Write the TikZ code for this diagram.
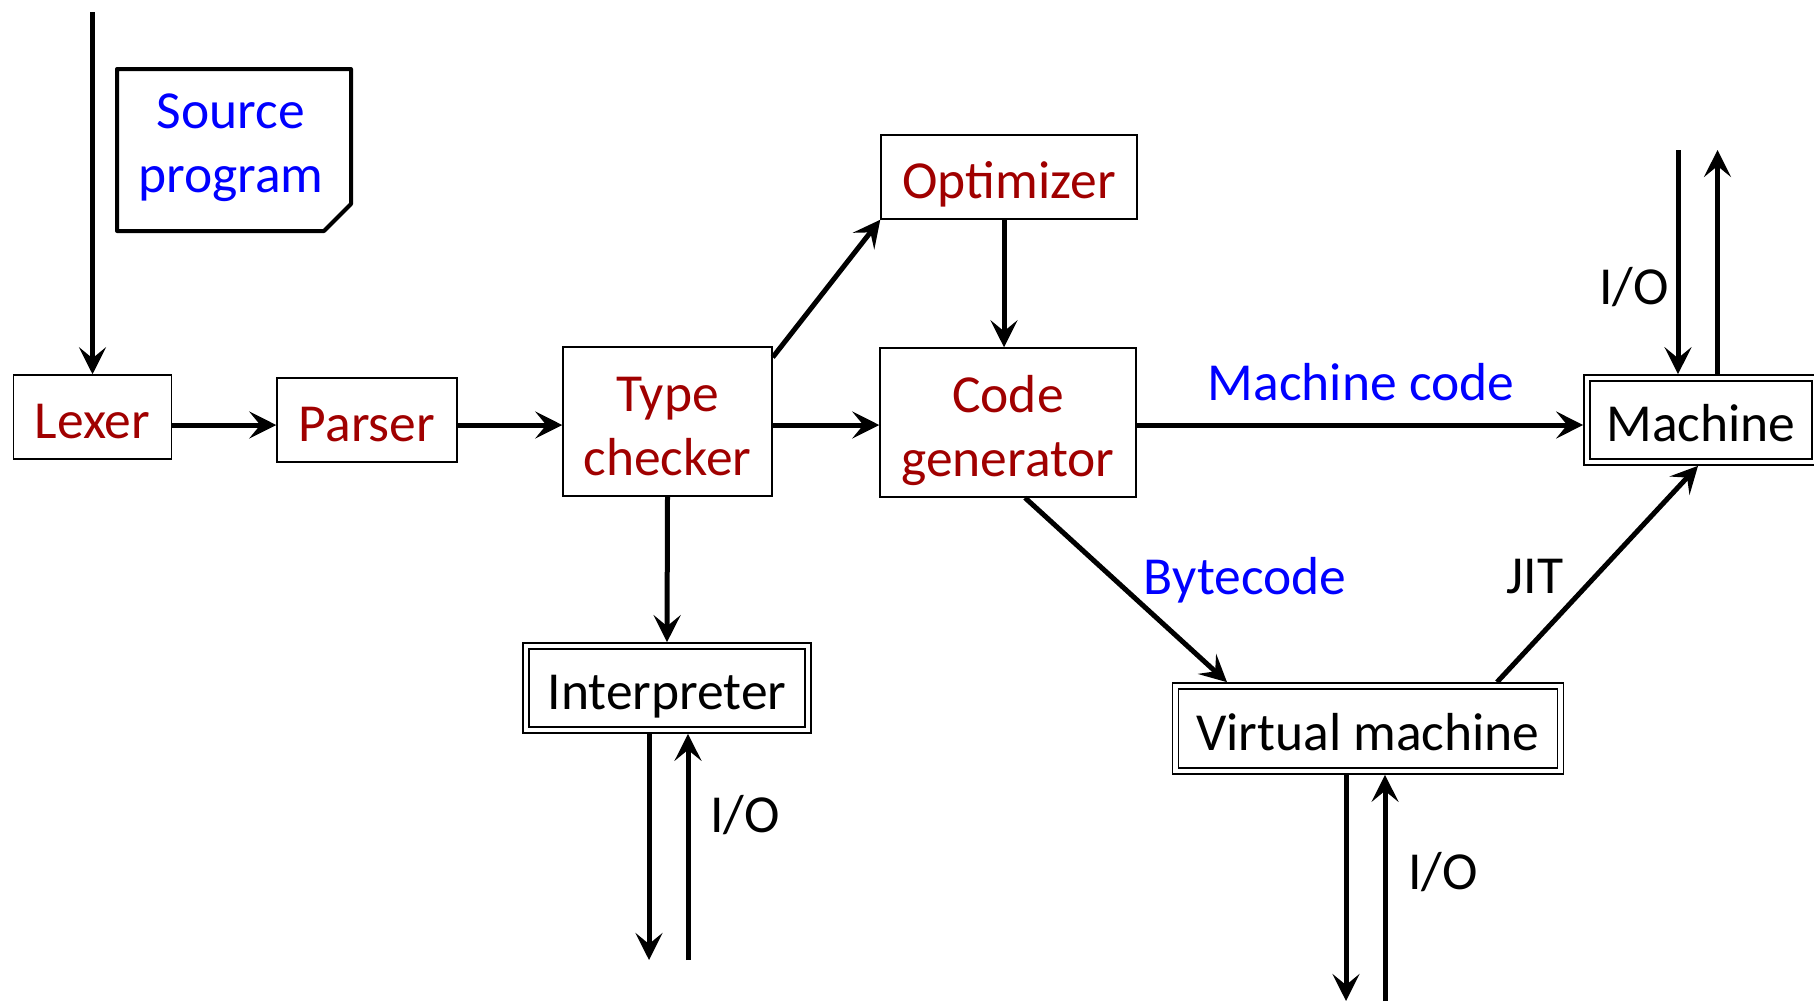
\documentclass[tikz,border=0pt]{standalone}
\usepackage{fontspec}
\setmainfont{Carlito}
\usetikzlibrary{arrows.meta,calc}
\definecolor{stagered}{RGB}{160,0,0}
\definecolor{codeblue}{RGB}{0,0,255}
\newcommand{\capstrut}{\rule{0pt}{43pt}}

\begin{document}
\begin{tikzpicture}[x=1pt,y=-1pt,
  font=\fontsize{53.5}{64}\selectfont,
  stage/.style={draw, line width=1.5pt, inner sep=0pt, text=stagered,
    align=center, text depth=0pt},
  runner/.style={draw, double, line width=1.7pt, double distance=4.3pt,
    inner sep=0pt, outer sep=3.85pt, text=black, text depth=0pt},
  arr/.style={line width=5pt, -{Stealth[length=27pt,width=27pt,inset=11pt]}},
  codelabel/.style={text=codeblue, anchor=base, inner sep=0pt},
  iolabel/.style={text=black, anchor=base, inner sep=0pt}]

\useasboundingbox (0,0) rectangle (1814,1002);

% source program document
\draw[line width=4pt, line join=round]
  (117,69) -- (351,69) -- (351,204) -- (324,231) -- (117,231) -- cycle;
\node[codelabel, align=center] (srctext) at (231,192) {Source\\program};

% compiler stages
\node[stage, minimum width=158pt, minimum height=84pt] (lexer) at (92.5,417) {\capstrut Lexer};
\node[stage, minimum width=180pt, minimum height=84pt] (parser) at (367,420) {\capstrut Parser};
\node[stage, minimum width=209pt, minimum height=149pt] (tc) at (667.5,421.5) {\capstrut Type\\checker};
\node[stage, minimum width=256pt, minimum height=149pt] (cg) at (1008,422.5) {\capstrut Code\\generator};
\node[stage, minimum width=256pt, minimum height=84pt] (opt) at (1009,177) {\capstrut Optimizer};

% execution engines
\node[runner, minimum width=282pt, minimum height=84pt] (interp) at (667,688) {\capstrut Interpreter};
\node[runner, minimum width=385pt, minimum height=85pt] (vm) at (1368,728.5) {\capstrut Virtual machine};
\node[runner, minimum width=228pt, minimum height=84pt] (mach) at (1701,420) {\capstrut Machine};

% connector end points
\coordinate (axis) at (0,425);
\coordinate (srcin) at (92.5,12);
\coordinate (iout) at (649,960);
\coordinate (iin) at (688,960);
\coordinate (vout) at (1346,1001);
\coordinate (vin) at (1385,1001);
\coordinate (mout) at (1717.5,150);
\coordinate (min) at (1678,150);

% main pipeline
\draw[arr] (srcin) -- (lexer.north);
\draw[arr] (lexer.east |- axis) -- (parser.west |- axis);
\draw[arr] (parser.east |- axis) -- (tc.west |- axis);
\draw[arr] (tc.east |- axis) -- (cg.west |- axis);
\draw[arr] (cg.east |- axis) -- (mach.west |- axis);
\draw[arr] ([yshift=-11pt]tc.north east) -- (opt.south west);
\draw[arr] ([xshift=-5pt]opt.south) -- ([xshift=-5pt]opt.south |- cg.north);
\draw[arr] (tc.south) -- (interp.north);
\draw[arr] ([xshift=17pt]cg.south) -- ([xshift=-141pt]vm.north);
\draw[arr] ([xshift=129pt]vm.north) -- ([xshift=-3pt]mach.south);

% input / output
\draw[arr] (iout |- interp.south) -- (iout);
\draw[arr] (iin) -- (iin |- interp.south);
\draw[arr] (vout |- vm.south) -- (vout);
\draw[arr] (vin) -- (vin |- vm.south);
\draw[arr] (min) -- (min |- mach.north);
\draw[arr] (mout |- mach.north) -- (mout);

% edge labels
\node[codelabel] (mclabel) at (1361,400) {Machine code};
\node[codelabel] (bclabel) at (1245,594) {Bytecode};
\node[iolabel] (jitlabel) at (1535,593) {JIT};
\node[iolabel] (ioint) at (745,832) {I/O};
\node[iolabel] (iovm) at (1443,889) {I/O};
\node[iolabel] (iomach) at (1634,304) {I/O};
\end{tikzpicture}
\end{document}
